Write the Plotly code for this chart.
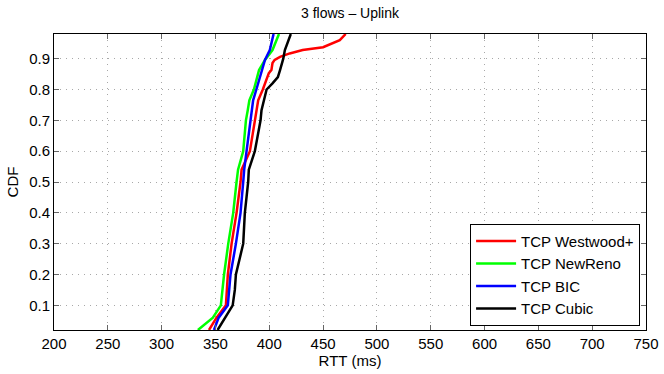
import plotly.graph_objects as go

# CDF of RTT
westwood_rtt = [344, 351, 359.7, 361.5, 365, 369.6, 373.3, 374.3, 382, 386.6, 389.7, 394,
                397.5, 399.6, 402, 403, 405, 410, 419, 431, 450, 456, 465.5, 471]
westwood_cdf = [0.02, 0.06, 0.1, 0.2, 0.3, 0.4, 0.5, 0.54, 0.6, 0.7, 0.765, 0.8,
                0.83, 0.853, 0.863, 0.886, 0.896, 0.906, 0.917, 0.928, 0.937, 0.945, 0.96, 0.98]

newreno_rtt = [333.7, 347.6, 355, 358, 361.9, 366.5, 369.6, 371, 375.8, 378.3, 380, 381.5,
               385.7, 390.5, 396, 403, 409]
newreno_cdf = [0.02, 0.06, 0.1, 0.2, 0.3, 0.4, 0.5, 0.54, 0.6, 0.7, 0.733, 0.765,
               0.8, 0.863, 0.896, 0.928, 0.98]

bic_rtt = [348.6, 353, 361.5, 364, 369, 373.3, 375.8, 376.7, 378.9, 382.6, 384, 385,
           388, 392.8, 396, 400.5, 404]
bic_cdf = [0.02, 0.06, 0.1, 0.2, 0.3, 0.4, 0.5, 0.54, 0.6, 0.7, 0.733, 0.765,
           0.8, 0.863, 0.896, 0.928, 0.98]

cubic_rtt = [352, 358.8, 366, 368, 369, 375.8, 377.3, 380.4, 381, 386.6, 391.9, 392.8,
             395, 396, 397.5, 403, 408, 410, 413, 414.5, 420]
cubic_cdf = [0.02, 0.06, 0.1, 0.15, 0.2, 0.3, 0.4, 0.5, 0.54, 0.6, 0.7, 0.733,
             0.765, 0.777, 0.8, 0.82, 0.84, 0.863, 0.9, 0.928, 0.98]

x_ticks = list(range(200, 751, 50))
y_ticks = [0.1, 0.2, 0.3, 0.4, 0.5, 0.6, 0.7, 0.8, 0.9]

series = [
    ("TCP Westwood+", westwood_rtt, westwood_cdf, "#ff0000"),
    ("TCP NewReno", newreno_rtt, newreno_cdf, "#00ff00"),
    ("TCP BIC", bic_rtt, bic_cdf, "#0000ff"),
    ("TCP Cubic", cubic_rtt, cubic_cdf, "#000000"),
]

fig = go.Figure()
for name, xs, ys, color in series:
    fig.add_trace(go.Scatter(x=xs, y=ys, mode="lines", name=name,
                             line=dict(color=color, width=2.5)))

axis_common = dict(
    showline=True, linecolor="black", linewidth=1, mirror="ticks",
    ticks="inside", ticklen=5, tickcolor="#666666",
    showgrid=True, gridcolor="#a8a8a8", griddash="1px,5px", gridwidth=1,
    zeroline=False, automargin=False,
    tickfont=dict(size=15, color="black"),
)

fig.update_layout(
    width=664, height=374,
    margin=dict(l=54, r=18, t=34, b=44),
    paper_bgcolor="white", plot_bgcolor="white",
    font=dict(family="Liberation Sans, Arial, sans-serif", color="black", size=15),
    title=dict(text="3 flows – Uplink", x=0.5, xref="paper", y=0.966,
               yanchor="middle", font=dict(size=14)),
    xaxis=dict(range=[200, 750], tickvals=x_ticks,
               title=dict(text="RTT (ms)", standoff=0, font=dict(size=15)),
               **axis_common),
    yaxis=dict(range=[0.02, 0.98], tickvals=y_ticks,
               title=dict(text="CDF", standoff=6, font=dict(size=15)),
               **axis_common),
    legend=dict(x=0.99, y=0.014, xanchor="right", yanchor="bottom",
                bgcolor="white", bordercolor="black", borderwidth=1,
                font=dict(size=15), tracegroupgap=0, itemwidth=40),
    showlegend=True,
)

# the page's default body margin would shift the chart by 8px
fig.write_html("out.html", config={"displayModeBar": False},
               post_script="document.body.style.margin='0';document.body.style.overflow='hidden';")
